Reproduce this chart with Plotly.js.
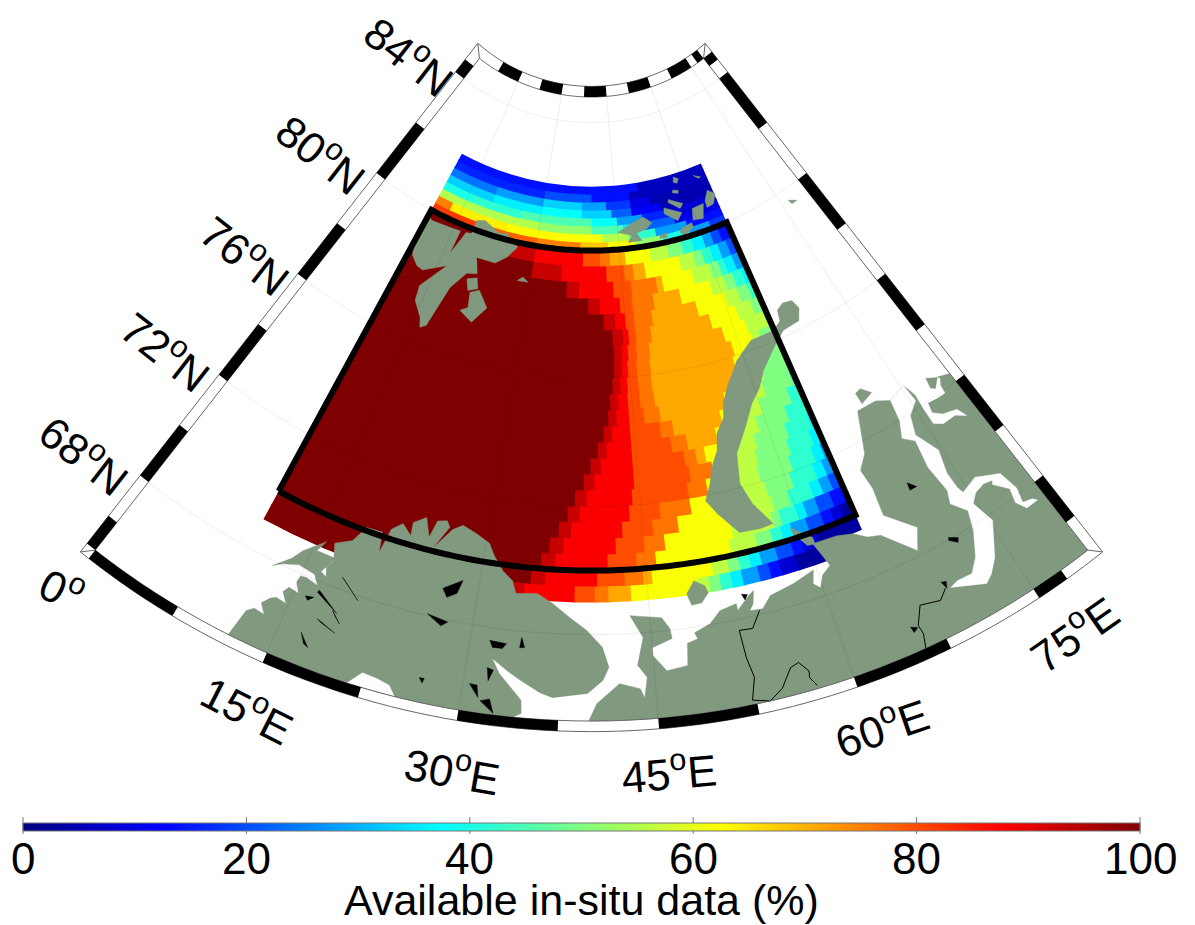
<!DOCTYPE html>
<html><head><meta charset="utf-8">
<script src="https://cdn.plot.ly/plotly-3.0.1.min.js"></script>
<style>html,body{margin:0;padding:0;background:#fff;overflow:hidden;width:1195px;height:925px}
#plot{position:absolute;left:0;top:-85px;width:1195px;height:1010px}</style>
</head><body><div id="plot"></div>
<script>
// ---------- Values ----------
const rowSouth = [69,69.5,70,70.5,71,71.5,72,72.5,73,73.5,74,74.5,75,75.5,76,76.5,77,77.5,78,78.5,79,79.5,80,80.25,80.5,80.75,81,81.25,81.5,81.75];
const rowTop = 82;
const gridWest = 10;
// each row: value, eastern longitude of that run, value, ...
const rowRuns = [
[100,33,93,34,88,38.5,80,40.3,76,41.5,71,43.5,62,49.5,56,50.5,50,51.5,42,52.5,36,53.5,28,55,20,56,14,57,8,58.5,3,61.5],
[100,34.5,93,35.8,88,40.5,80,43,76,44.7,71,45.5,62,51,56,52.5,50,53.5,42,54.5,36,55.5,28,57,20,58.5,14,59.5,8,61,3,65],
[100,35.3,93,36.6,88,41.5,80,44.2,76,46,62,53,56,55.5,50,57,42,58,36,59,28,60.5,20,62,14,63,8,64,3,65],
[100,36,93,37.3,88,42.3,80,45,76,47,62,53.5,56,57.5,50,58.3,42,60,36,60.8,28,62,20,63.5,14,65],
[100,36.8,93,38,88,43,80,46,76,48.5,62,53.5,56,58,50,59.7,42,62,36,63,28,64,20,65],
[100,37.6,93,38.8,88,43.8,80,46.9,76,50,62,53.5,56,57.8,50,60.5,42,63,36,64,28,65],
[100,38.3,93,39.5,88,44.2,80,50,76,52,62,54,56,57.5,50,61,42,63.5,36,64.5,28,65],
[100,39.2,93,40.3,88,44.5,80,50.5,76,53,62,55,56,57.8,50,61.4,42,64,36,65],
[100,39.9,93,41,88,44.5,80,50.2,76,51.5,71,52.5,62,55,56,58.2,50,61.8,42,64.5,36,65],
[100,40.7,93,41.7,88,44.5,80,49,76,50.8,71,54.2,62,56,56,59,50,62.5,42,65],
[100,41.4,93,42.4,88,44.5,80,48,76,49.5,71,55.2,62,57,56,60,50,63.5,42,65],
[100,42,93,43,88,44.5,80,46.3,76,48.2,71,56.2,62,58,56,61,50,64.5,42,65],
[100,42.3,93,43.3,88,44.5,80,46,76,47.8,71,57.8,62,59,56,61.5,50,65],
[100,42.7,93,43.7,88,44.6,80,46,76,47.7,71,58.6,62,60,56,62,50,65],
[100,43,93,44,88,44.8,80,46,76,47.8,71,59,62,61.9,56,63,50,65],
[100,43.1,93,44.2,88,45,80,46.2,76,48,71,58.4,62,61.7,56,65],
[100,43,93,44.5,88,45.3,80,46.3,76,48.5,71,57.2,62,61.2,56,63.5,50,65],
[100,41.8,93,43.5,88,45,80,46.3,76,49,71,55.8,62,60.3,56,62.3,50,64,42,65],
[100,39.5,93,41.3,88,44.4,80,46.3,76,49.6,71,53.8,62,58.7,56,61,50,62.5,42,64,36,65],
[100,36,93,38,88,43.5,80,46.4,76,50.5,71,51.5,62,56.5,56,59.5,50,61,42,62,36,63.5,28,65],
[100,30,93,35,88,42.5,80,45.5,76,47,71,49,62,55,56,57.5,50,59,42,60.5,36,62,28,63.5,20,65],
[100,25,93,30,88,38.5,80,41.5,76,43.2,71,45.9,62,50.3,56,53.5,50,56,42,58,36,60,28,61.5,20,63,14,65],
[82,20,78,30,75,38,68,43,62,48,52,53,40,58,28,62,18,65],
[75,13,64,24,63,34,62,42,55,47,42,52,28,58,14,65],
[55,30,52,40,45,46,36,50,22,56,10,65],
[40,16,42,26,45,40,38,45,28,50,16,55,8,65],
[33,20,36,30,38,38,33,44,22,48,12,54,5,65],
[24,20,28,30,33,38,28,43,18,48,10,52,5,65],
[16,30,20,40,14,48,6,65],
[14,50,6,65]
];
const scaleStops = [[0,'#000080'],[0.125,'#0000ff'],[0.375,'#00ffff'],[0.625,'#ffff00'],[0.875,'#ff0000'],[1,'#7f0000']];

// land outlines as [lon,lat,lon,lat,...]
const scandinaviaCoast = [11.8,65.3,12.2,66.22,12.7,66.4,13.6,66.35,13,66.65,13.5,66.9,13.9,67,14.8,66.95,14.2,67.25,14.5,67.45,15.4,67.4,14.9,67.7,15,67.92,15.5,67.95,16.6,67.85,15.9,68.2,16,68.38,17,68.2,16.7,68.5,17.1,68.75,16.6,69.28,18,69.56,18.8,70.1,20.3,70.13,20.6,69.5,21,70.3,21.9,70.58,22.9,70.29,22.8,70.7,23.9,70.97,24.6,70.4,25,70.95,25.9,71.03,26.3,70.85,25.2,70.1,26.6,70.8,27.5,71,28.9,70.83,30.3,70.6,30.9,70.25,31.9,69.81,32.9,69.53,33.3,69.16,35.2,69.22,36.6,68.94,38.1,68.53,39.6,68.13,40.9,67.6,41.4,66.97,40.9,66.56,39.7,66.16,37,66,36,66.13,34.4,66.47,33.3,66.72,32,67.05,32.7,66.61,33.7,66.22,34.6,65.85,34.7,65.44,34.1,65.3];
const russiaCoast = [39.8,65.3,40.4,65.84,42.2,66.45,43.8,66.26,44.1,65.97,44.4,66.6,43.7,67,44.3,67.85,43.3,68.56,46,68.42,46.6,68.06,46.7,67.74,45,67.51,45,67.26,46,66.75,47.7,66.84,47.9,67.53,48.8,67.63,48.6,67.83,50,68.03,51,68.38,52.5,68.5,52.5,68.28,53.7,68.66,54.2,68.78,53.9,68.38,53.5,68.19,54.6,68.16,55.5,68.5,57.7,68.66,59.7,68.88,59.3,68.47,59.8,68.28,60.3,68.63,61.2,68.84,61.1,68.95,60.4,69.66,62.7,69.63,64.1,69.5,65.2,69.22,66.3,69.1,68.6,68.16,69.5,68.81,67.3,69.63,67.5,70.53,67.2,71.2,68.3,71.61,69.7,72.9,71.9,72.9,73.3,72.67,75.3,72.85,75.8,72.38,77.5,72.6,80,72.3];
const islandOutlines = [
 [10.2,79.82,10,78.9,10.8,78.47,12.1,78.25,13.2,78.2,16.4,78.63,13.8,77.72,14.1,77.25,15.7,76.82,16.2,76.53,16.9,76.66,18.1,78.03,19.8,78.63,21.4,78.72,20.5,79.2,23.7,79.2,25.4,79.47,26.8,79.85,24.3,80.2,23.1,80.13,19.8,80.38,18.3,80.29,18.3,79.85,17.3,79.82,16.1,79.03,16.3,79.8,14.8,79.78,10.9,79.72],
 [20.1,78.47,21.6,78.6,22.2,78.28,20.8,78.13],
 [21.2,78.1,22.5,78.25,24.3,77.78,22.7,77.22,20.6,77.47,21.6,77.63],
 [27.9,78.83,28.7,78.97,29.7,78.84],
 [64,81.16,65.2,80.97,64.1,80.69,62.7,80.66,62.8,80.88],
 [59.9,80.79,62.3,80.82,61.3,80.38,59.4,80.44],
 [57.2,81.52,58.4,81.47,58.2,81.38,57.1,81.44],
 [55.9,81.28,58.5,81.03,57.7,80.91,55.7,81.19],
 [54.6,81.06,57.8,80.77,56.6,80.56,54.4,80.88],
 [58.2,81.91,59.2,81.81,58.6,81.69,57.9,81.75],
 [62.4,81.75,63.8,81.63,63.3,81.6],
 [45,80.53,47.9,80.78,49.6,80.88,50.2,80.91,51.7,80.69,50.5,80.53,48.5,80.44,49.3,80.19,46.7,80.19,47.6,80.39],
 [52.7,80.25,54.1,80.28,53.9,80.13,52.6,80.16],
 [57,80.31,59,80.38,59,80.22,57.1,80.06,56.4,80.19],
 [76.4,79.66,77.7,79.5,76.6,79.5],
 [67.6,76.97,68.9,76.91,69.3,76.6,68.5,76.25,66.1,76.19,64.3,75.86,61.8,75.28,60.6,74.81,59.1,74.41,57.6,73.77,55.9,73.06,55.4,72.13,56.1,71.42,57.5,70.64,56.2,70.6,54.2,70.64,52.5,71.37,51.6,71.84,52.4,72.34,52.9,72.81,53.9,73.3,54.3,73.81,55.5,74.25,55.9,74.69,57.1,75.23,58.2,75.58,59,75.84,61.6,76.29,64.9,76.31,66.2,76.5,66.5,76.84],
 [71.1,73.47,72,73.19,70.5,73.03,70.4,73.41],
 [58.9,70.37,59.9,70.06,60.6,69.84,60.6,69.63,59.9,69.66,59,70.16],
 [48.4,69.06,49.2,69.44,50.1,69.23,50.3,69,49.6,68.72,48.7,68.69],
 [12.5,67.85,13.7,68.31,14.3,68.67,15.9,69.23,15.4,68.85,17.2,68.85,16.2,68.13,14.5,68.22,13.2,68.03]
];
const waterOutlines = [
 [21.4,65.3,22.3,65.75,23.5,65.7,24.5,65.6,25.1,65.3],
 [73.3,72.67,73,71.97,72.3,71.47,73.3,71.19,73,70.27,73.4,69.34,73,68.94,74,68.47,73.5,67.85,72.5,67.1,71.6,66.72,70.3,66.75,69.6,66.66,72.2,66.22,72.9,66.4,73.8,66.78,75.3,67.8,74.7,68.56,75.4,68.81,76.4,68.9,77.2,68.83,77,68.72,78,68.3,77.7,67.85,78.2,67.5,79.3,67.5,79,67.63,78.2,67.72,78.5,68.19,78.1,68.86,76.1,69.22,74.5,69.03,74.3,69.25,74.2,69.8,74.7,70.56,73.6,71.34,74.2,71.94,75.5,72.25,75.3,72.85],
 [75.8,72.38,75.7,71.91,75.7,71.34,76.5,71.16,77.9,71.16,78.8,70.94,78.4,71.28,77,71.42,76.2,71.64,76.4,71.97,77.6,71.92,78.4,71.91,78.5,72.19,78.9,72.38,77.8,72.72,75.6,72.88]
];
const gydanIsland = [77.7,72.64,78.7,72.44,77.9,72.2,77.5,72.3];
const lakeOutlines = [
 [26.9,68.94,28.5,69.31,28.2,68.88,27.4,68.69],[26.1,68.06,27.9,67.94,27.4,67.78],[31.5,65.69,32.2,65.78,32.6,65.35],
 [30.5,66.17,31.1,66.16,31.3,65.78],[34.2,67.81,34.5,67.5,34.1,67.48],[31.6,67.6,33,67.56,32.7,67.4,31.9,67.39],
 [31.7,66.75,32.2,66.69,31.9,66.34],[26.6,66.06,27,66.06,26.9,65.91],[16.8,66.31,17.7,65.94,17.3,66],
 [16.9,67.74,18.9,67.25,16.8,67.66],[18.3,68.38,20.2,67.85,18.6,68.31],[18.5,67.3,19.4,66.97,18.8,67.17],
 [17.6,66.89,19.3,66.65,17.9,66.82],[16,67.41,16.7,67.47,16.3,67.31],[70.6,70.19,71.2,69.94,70.5,69.94],
 [71.4,68.06,72.1,67.91,71.9,67.78,71.3,67.98],[53.1,68.75,53.6,68.7,53.3,68.55],[65.4,66.1,65.9,66,65.5,65.9],[69.1,66.95,69.5,66.9,69.3,66.7]
];
const borderLines = [
 [69.2,66.72,68.4,66.45,66.8,66.6,66,66.05,66.1,65.75,65.8,65.3],
 [54.3,68.13,53.4,67.63,52.3,67.66,52.3,67.5,52.4,66.78,52.7,66.13,52.2,65.44,53.5,65.3,54.6,65.6,55.3,66,55.6,66.16,56.3,66.25,56.9,65.9,56.8,65.7,57.2,65.4]
];
const boxWest=10, boxEast=65, boxSouth=70, boxNorth=80;
const frameWest=0, frameEast=80, frameSouth=65.3, frameNorth=84.8;
const bottomBlack=[[0,7.5],[15,22.5],[30,37.5],[45,52.5],[60,67.5],[75,77.5]];
const topBlack=[[7.5,15],[22.5,30],[37.5,45],[52.5,60],[67.5,75],[77.5,80]];
const leftBlack=[[65.3,66.4],[68,70],[72,74],[76,78],[80,82],[84,84.5]];
const rightBlack=[[66.4,68],[70,72],[74,76],[78,80],[82,84],[84.5,84.8]];
const gridLats=[68,72,76,80,84];
const gridLons=[15,30,45,60,75];
const barTicks=[0,20,40,60,80,100];
const barTitle='Available in-situ data (%)';
const latLabels=[['84<sup>o</sup>N',411,54,38],['80<sup>o</sup>N',323,152,38],['76<sup>o</sup>N',247,253,38],['72<sup>o</sup>N',167,350,38],['68<sup>o</sup>N',86,453,38]];
const lonLabels=[['0<sup>o</sup>',63,587,26],['15<sup>o</sup>E',248,707,27],['30<sup>o</sup>E',452,768,10],['45<sup>o</sup>E',668,770,-5],['60<sup>o</sup>E',880,725,-19],['75<sup>o</sup>E',1072,632,-35]];

// ---------- Subplot constants ----------
const H=1010, TOP=85, CX=591.5, PXDEG=32, CONE=0.95;
const polarSouth=64.9, polarNorth=85.3, RADIUS=818.8;
const BAR_L=23, BAR_W=1117, BAR_TOP=823;
const theta=l=>l*CONE;
const rPx=lat=>RADIUS-(lat-polarSouth)*PXDEG;
const BAND=10.6;
const land='#80997f', frameGrey='#666';
const py=y=>1-(y+TOP)/H, px=x=>x/1195;
const traces=[];

// heat cells
{
 const r=[],b=[],t=[],w=[],c=[];
 rowRuns.forEach((row,i)=>{
  const s=rowSouth[i], n=i+1<rowSouth.length?rowSouth[i+1]:rowTop;
  const over=i+1<rowSouth.length?0.05:0;
  let west=gridWest;
  for(let k=0;k<row.length;k+=2){
    const v=row[k], e=row[k+1];
    if(e>west){
      const ov=e<boxEast?0.12:0;
      b.push(s); r.push(n-s+over); t.push(theta((west+e+ov)/2)); w.push(theta(e-west+ov)); c.push(v);
    }
    west=e;
  }
 });
 traces.push({type:'barpolar',r:r,base:b,theta:t,width:w,hoverinfo:'skip',
  marker:{color:c,cmin:0,cmax:100,colorscale:scaleStops,line:{width:0},
   colorbar:{orientation:'h',thickness:8,len:BAR_W,lenmode:'pixels',x:px(BAR_L+BAR_W/2),xanchor:'center',y:py(BAR_TOP),yanchor:'top',
     xpad:0,ypad:0,outlinecolor:'#777',outlinewidth:1,tickvals:barTicks,ticks:'',showticklabels:false}}});
}
const arcLons=(a,b)=>{const o=[];const d=(b-a)>=0?0.5:-0.5;for(let l=a;(d>0?l<b:l>b);l+=d)o.push(l);o.push(b);return o;};
function poly(flat,color,extra){
 const r=[],t=[];
 for(let i=0;i<flat.length;i+=2){t.push(theta(flat[i]));r.push(flat[i+1]);}
 if(extra){extra.forEach(p=>{t.push(theta(p[0]));r.push(p[1]);});}
 r.push(r[0]);t.push(t[0]);
 traces.push({type:'scatterpolar',mode:'lines',r:r,theta:t,fill:'toself',fillcolor:color,line:{width:0.4,color:color},hoverinfo:'skip'});
}
// land
poly(scandinaviaCoast,land,arcLons(34.1,11.8).map(l=>[l,frameSouth]));
poly(russiaCoast,land,[[frameEast,frameSouth]].concat(arcLons(frameEast,39.8).map(l=>[l,frameSouth])));
islandOutlines.forEach(o=>poly(o,land));
waterOutlines.forEach(o=>poly(o,'#ffffff'));
poly(gydanIsland,land);
lakeOutlines.forEach(o=>poly(o,'#000000'));
borderLines.forEach(o=>{
 const r=[],t=[];for(let i=0;i<o.length;i+=2){t.push(theta(o[i]));r.push(o[i+1]);}
 traces.push({type:'scatterpolar',mode:'lines',r:r,theta:t,line:{width:1,color:'#000'},hoverinfo:'skip'});
});
// graticule
{
 const t=[],r=[];
 gridLats.forEach(la=>{arcLons(frameWest,frameEast).forEach(l=>{t.push(theta(l));r.push(la);});t.push(null);r.push(null);});
 gridLons.forEach(l=>{t.push(theta(l),theta(l),null);r.push(frameSouth,frameNorth,null);});
 traces.push({type:'scatterpolar',mode:'lines',r:r,theta:t,connectgaps:false,line:{width:1,color:'rgba(0,0,0,0.07)'},hoverinfo:'skip'});
}
// data box
{
 const t=[],r=[];
 arcLons(boxWest,boxEast).forEach(l=>{t.push(theta(l));r.push(boxSouth);});
 arcLons(boxEast,boxWest).forEach(l=>{t.push(theta(l));r.push(boxNorth);});
 t.push(theta(boxWest));r.push(boxSouth);
 traces.push({type:'scatterpolar',mode:'lines',r:r,theta:t,line:{width:6,color:'#000',simplify:false},hoverinfo:'skip'});
}
// frame
const outAng=(lat,d)=>Math.asin(d/rPx(lat))*180/Math.PI;
{
 const dLat=BAND/PXDEG, latS=frameSouth-dLat, latN=frameNorth+dLat;
 const E=theta(frameEast);
 const ti=[],ri=[];
 arcLons(frameWest,frameEast).forEach(l=>{ti.push(theta(l));ri.push(frameSouth);});
 arcLons(frameEast,frameWest).forEach(l=>{ti.push(theta(l));ri.push(frameNorth);});
 ti.push(0);ri.push(frameSouth);
 traces.push({type:'scatterpolar',mode:'lines',r:ri,theta:ti,line:{width:1,color:frameGrey},hoverinfo:'skip'});
 const to=[],ro=[];
 const a0=outAng(latS,BAND), a1=outAng(latN,BAND);
 to.push(-a0);ro.push(latS);
 for(let l=0;l<=frameEast;l+=1){to.push(theta(l));ro.push(latS);}
 to.push(E+a0);ro.push(latS);
 for(let la=latS+1;la<latN;la+=1){to.push(E+outAng(la,BAND));ro.push(la);}
 to.push(E+a1);ro.push(latN);
 for(let l=frameEast;l>=0;l-=1){to.push(theta(l));ro.push(latN);}
 to.push(-a1);ro.push(latN);
 for(let la=latN-1;la>latS;la-=1){to.push(-outAng(la,BAND));ro.push(la);}
 to.push(-a0);ro.push(latS);
 traces.push({type:'scatterpolar',mode:'lines',r:ro,theta:to,line:{width:1,color:frameGrey},hoverinfo:'skip'});
 [[0,frameSouth,-a0,latS],[E,frameSouth,E+a0,latS],[0,frameNorth,-a1,latN],[E,frameNorth,E+a1,latN]].forEach(q=>{
  traces.push({type:'scatterpolar',mode:'lines',r:[q[1],q[3]],theta:[q[0],q[2]],line:{width:1,color:frameGrey},hoverinfo:'skip'});
 });
 const tb=[],rb=[];
 const mid=BAND/2, midLat=dLat/2;
 bottomBlack.forEach(s=>{
   arcLons(s[0],s[1]).forEach(l=>{tb.push(theta(l));rb.push(frameSouth-midLat);}); tb.push(null);rb.push(null);
 });
 topBlack.forEach(s=>{
   arcLons(s[0],s[1]).forEach(l=>{tb.push(theta(l));rb.push(frameNorth+midLat);}); tb.push(null);rb.push(null);
 });
 leftBlack.forEach(s=>{
   tb.push(-outAng(s[0],mid),-outAng(s[1],mid),null);rb.push(s[0],s[1],null);
 });
 rightBlack.forEach(s=>{
   tb.push(E+outAng(s[0],mid),E+outAng(s[1],mid),null);rb.push(s[0],s[1],null);
 });
 traces.push({type:'scatterpolar',mode:'lines',r:rb,theta:tb,connectgaps:false,line:{width:BAND,color:'#000',simplify:false},hoverinfo:'skip'});
}

const txt=(text,x,y,angle,size)=>({text:text,xref:'paper',yref:'paper',x:px(x),y:py(y),xanchor:'center',yanchor:'middle',textangle:angle,showarrow:false,font:{family:'Liberation Sans',size:size,color:'#000'}});
const anns=latLabels.concat(lonLabels).map(a=>txt(a[0],a[1],a[2],a[3],44));
barTicks.forEach(v=>anns.push(txt(String(v),BAR_L+BAR_W*v/100,858,0,44)));
anns.push(txt(barTitle,581,900,0,43));
const shapes=barTicks.map(v=>({type:'line',xref:'paper',yref:'paper',x0:px(BAR_L+BAR_W*v/100),x1:px(BAR_L+BAR_W*v/100),y0:py(817),y1:py(834),line:{color:'#777',width:1}}));

const layout={width:1195,height:H,margin:{l:0,r:0,t:0,b:0,pad:0,autoexpand:false},paper_bgcolor:'#fff',showlegend:false,annotations:anns,shapes:shapes,
 polar:{domain:{x:[(CX-560)/1195,(CX+560)/1195],y:[1-RADIUS/H,1]},sector:[228,312],hole:rPx(polarNorth)/RADIUS,bgcolor:'rgba(0,0,0,0)',
  radialaxis:{range:[polarNorth,polarSouth],showticklabels:false,ticks:'',showline:false,showgrid:false},
  angularaxis:{rotation:232,direction:'counterclockwise',thetaunit:'degrees',showticklabels:false,ticks:'',showline:false,showgrid:false}}};
Plotly.newPlot('plot',traces,layout,{displayModeBar:false,staticPlot:true});
</script></body></html>
